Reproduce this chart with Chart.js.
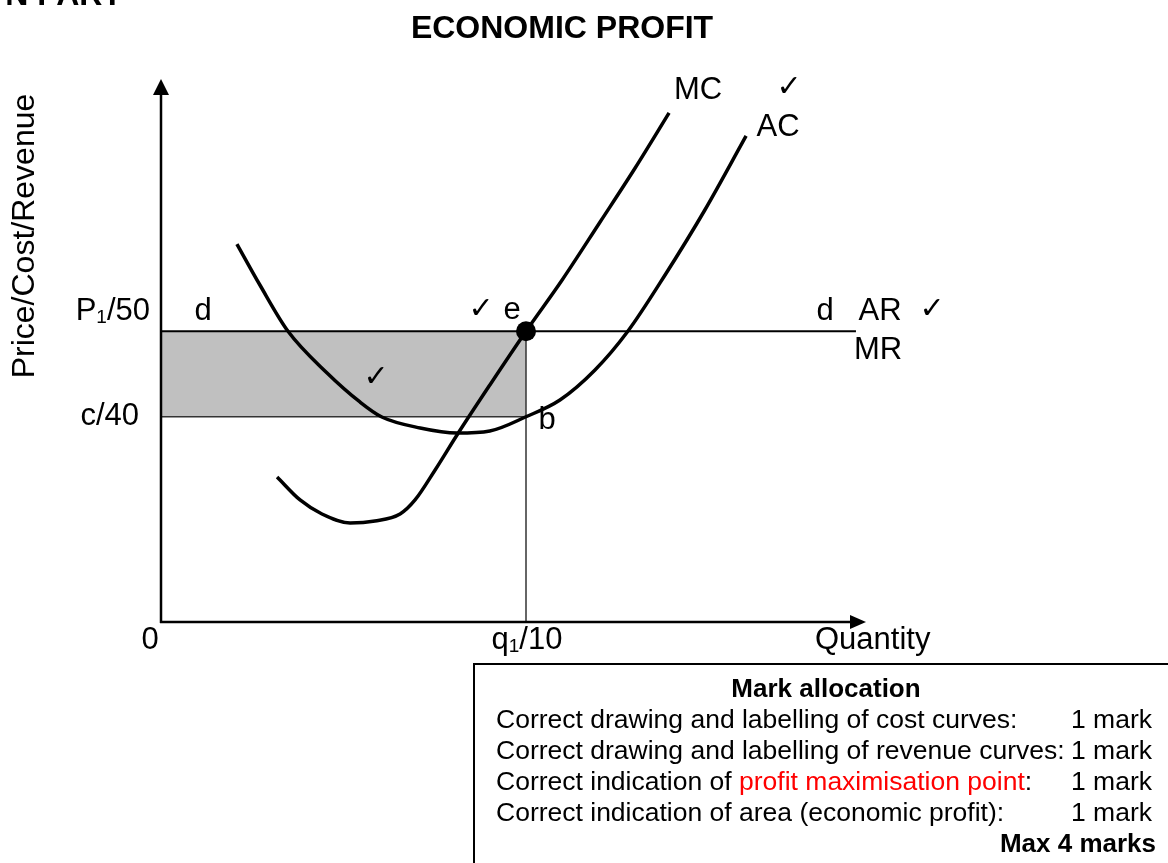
<!DOCTYPE html>
<html>
<head>
<meta charset="utf-8">
<script src="https://cdn.jsdelivr.net/npm/chart.js@4.4.1/dist/chart.umd.min.js"></script>
<style>
  html, body { margin: 0; padding: 0; background: #fff; }
  #wrap { width: 1168px; height: 863px; position: relative; }
</style>
</head>
<body>
<div id="wrap"><canvas id="profitChart" width="1168" height="863"></canvas></div>
<script>
//DATA
const chartTitle = 'ECONOMIC PROFIT';
const quantityTicks = [0, 10];
const quantityTickLabels = ['0', 'q₁/10'];
const priceTicks = [50, 40];
const priceTickLabels = ['P₁/50', 'c/40'];

const q1 = 10;
const price = 50;
const avgCost = 40;
const arEnd = 19.04;

const mcQ = [3.18, 3.81, 4.41, 5.18, 5.86, 6.55, 6.96, 7.51, 8.11, 9.01, 10, 10.99, 12.03, 12.99, 13.92];
const mcP = [32.96, 30.27, 28.63, 27.58, 27.81, 28.63, 30.27, 33.78, 37.87, 43.72, 50, 56.0, 62.78, 69.09, 75.53];

const acQ = [2.08, 2.71, 3.48, 4.55, 5.45, 6.05, 7.10, 8.11, 9.01, 10, 10.93, 11.89, 12.79, 13.81, 14.90, 16.03];
const acP = [60.2, 55.41, 50, 45.12, 41.73, 39.97, 38.69, 38.10, 38.34, 40, 41.96, 45.47, 50, 56.58, 64.18, 72.84];

const markItems = [
  ['Correct drawing and labelling of cost curves:'],
  ['Correct drawing and labelling of revenue curves:'],
  ['Correct indication of ', 'profit maximisation point', ':'],
  ['Correct indication of area (economic profit):']
];
const markValues = ['1 mark', '1 mark', '1 mark', '1 mark'];
const markTotal = 'Max 4 marks';

const FONT = '"Liberation Sans", Arial, sans-serif';
const toPts = (xs, ys) => xs.map((x, i) => ({ x: x, y: ys[i] }));

//TEXT HELPER (draws ₁ as a small lowered 1)
function drawRich(ctx, text, x, y, align, size) {
  const parts = text.split('₁');
  const subSize = Math.round(size * 0.62);
  let w = 0;
  const pieces = [];
  parts.forEach((p, i) => {
    ctx.font = size + 'px ' + FONT;
    pieces.push({ t: p, f: ctx.font, dy: 0, w: ctx.measureText(p).width });
    w += pieces[pieces.length - 1].w;
    if (i < parts.length - 1) {
      ctx.font = subSize + 'px ' + FONT;
      pieces.push({ t: '1', f: ctx.font, dy: size * 0.22, w: ctx.measureText('1').width });
      w += pieces[pieces.length - 1].w;
    }
  });
  let cx = align === 'right' ? x - w : align === 'center' ? x - w / 2 : x;
  ctx.textAlign = 'left';
  pieces.forEach(p => {
    ctx.font = p.f;
    ctx.fillText(p.t, cx, y + p.dy);
    cx += p.w;
  });
}

//AXES WITH ARROWS
const axesPlugin = {
  id: 'axesArrows',
  afterDatasetsDraw(chart) {
    const { ctx, chartArea: a } = chart;
    ctx.save();
    ctx.strokeStyle = '#000';
    ctx.fillStyle = '#000';
    ctx.lineWidth = 2.5;
    ctx.beginPath();
    ctx.moveTo(a.left, a.bottom + 1);
    ctx.lineTo(a.left, a.top + 14);
    ctx.moveTo(a.left - 1, a.bottom);
    ctx.lineTo(a.right - 14, a.bottom);
    ctx.stroke();
    ctx.beginPath();
    ctx.moveTo(a.left, a.top);
    ctx.lineTo(a.left - 8, a.top + 16);
    ctx.lineTo(a.left + 8, a.top + 16);
    ctx.closePath();
    ctx.fill();
    ctx.beginPath();
    ctx.moveTo(a.right, a.bottom);
    ctx.lineTo(a.right - 16, a.bottom - 7);
    ctx.lineTo(a.right - 16, a.bottom + 7);
    ctx.closePath();
    ctx.fill();
    ctx.restore();
  }
};

//LABELS
const labelsPlugin = {
  id: 'labels',
  afterDraw(chart) {
    const { ctx, scales: { x, y } } = chart;
    ctx.save();
    ctx.fillStyle = '#000';
    ctx.textBaseline = 'middle';

    // cut-off heading at the top
    ctx.font = 'bold 32px ' + FONT;
    ctx.textAlign = 'right';
    ctx.fillText('N PART', 122, -4);

    ctx.font = 'bold 32px ' + FONT;
    ctx.textAlign = 'center';
    ctx.fillText(chartTitle, 562, 29);

    // y title
    ctx.save();
    ctx.translate(25, 236);
    ctx.rotate(-Math.PI / 2);
    ctx.font = '32px ' + FONT;
    ctx.textAlign = 'center';
    ctx.fillText('Price/Cost/Revenue', 0, 0);
    ctx.restore();

    // ticks
    priceTicks.forEach((v, i) => {
      drawRich(ctx, priceTickLabels[i], i === 0 ? 150 : 139, y.getPixelForValue(v) - (i === 0 ? 20 : 0), 'right', 31);
    });
    quantityTicks.forEach((v, i) => {
      drawRich(ctx, quantityTickLabels[i], x.getPixelForValue(v) + (i === 0 ? -11 : 1), 640, 'center', 31);
    });
    ctx.font = '31px ' + FONT;
    ctx.textAlign = 'left';
    ctx.fillText('Quantity', 815, 640);

    // curve labels
    const txt = (s, px, py, al) => { ctx.textAlign = al || 'center'; ctx.fillText(s, px, py); };
    ctx.font = '31px ' + FONT;
    txt('d', 203, 311);
    txt('e', 512, 310);
    txt('d', 825, 311);
    txt('AR', 880, 311);
    txt('MR', 878, 350);
    txt('b', 547, 420);
    txt('MC', 698, 90);
    txt('AC', 778, 127);
    ctx.font = '30px "DejaVu Sans", sans-serif';
    txt('✓', 481, 310);
    txt('✓', 932, 310);
    txt('✓', 376, 378);
    txt('✓', 789, 88);

    // mark allocation box
    ctx.strokeStyle = '#000';
    ctx.lineWidth = 2;
    ctx.strokeRect(474, 664, 700, 220);
    ctx.font = 'bold 26px ' + FONT;
    txt('Mark allocation', 826, 690);
    const rowY = [721, 752, 783, 814];
    markItems.forEach((segs, i) => {
      ctx.font = '26.5px ' + FONT;
      ctx.textAlign = 'left';
      let cx = 496;
      segs.forEach((s, j) => {
        ctx.fillStyle = (segs.length === 3 && j === 1) ? '#ff0000' : '#000';
        ctx.fillText(s, cx, rowY[i]);
        cx += ctx.measureText(s).width;
      });
      ctx.fillStyle = '#000';
      txt(markValues[i], 1152, rowY[i], 'right');
    });
    ctx.font = 'bold 26px ' + FONT;
    txt(markTotal, 1156, 845, 'right');
    ctx.restore();
  }
};

//CHART
const ctx = document.getElementById('profitChart');

new Chart(ctx, {
  type: 'line',
  data: {
    datasets: [
      {
        label: 'Economic profit',
        data: [{ x: 0, y: price }, { x: q1, y: price }],
        fill: { value: avgCost },
        backgroundColor: '#c0c0c0',
        borderWidth: 0,
        pointRadius: 0,
        order: 10
      },
      {
        label: 'c',
        data: [{ x: 0, y: avgCost }, { x: q1, y: avgCost }],
        borderColor: '#333',
        borderWidth: 1.5,
        pointRadius: 0,
        order: 6
      },
      {
        label: 'q1',
        data: [{ x: q1, y: 16 }, { x: q1, y: price }],
        borderColor: '#333',
        borderWidth: 1.5,
        pointRadius: 0,
        order: 6
      },
      {
        label: 'AR = MR',
        data: [{ x: 0, y: price }, { x: arEnd, y: price }],
        borderColor: '#000',
        borderWidth: 2,
        pointRadius: 0,
        order: 5
      },
      {
        label: 'MC',
        data: toPts(mcQ, mcP),
        borderColor: '#000',
        borderWidth: 3.5,
        pointRadius: 0,
        cubicInterpolationMode: 'monotone',
        order: 2
      },
      {
        label: 'AC',
        data: toPts(acQ, acP),
        borderColor: '#000',
        borderWidth: 3.5,
        pointRadius: 0,
        cubicInterpolationMode: 'monotone',
        order: 2
      },
      {
        label: 'e',
        data: [{ x: q1, y: price }],
        showLine: false,
        pointRadius: 10,
        pointBackgroundColor: '#000',
        pointBorderWidth: 0,
        order: 1
      }
    ]
  },
  options: {
    responsive: false,
    animation: false,
    clip: false,
    layout: { padding: { left: 161, top: 79, right: 302, bottom: 241 } },
    scales: {
      x: { type: 'linear', min: 0, max: 19.315, display: false },
      y: { type: 'linear', min: 16, max: 79.5, display: false }
    },
    plugins: {
      legend: { display: false },
      tooltip: { enabled: false }
    }
  },
  plugins: [axesPlugin, labelsPlugin]
});
</script>
</body>
</html>
